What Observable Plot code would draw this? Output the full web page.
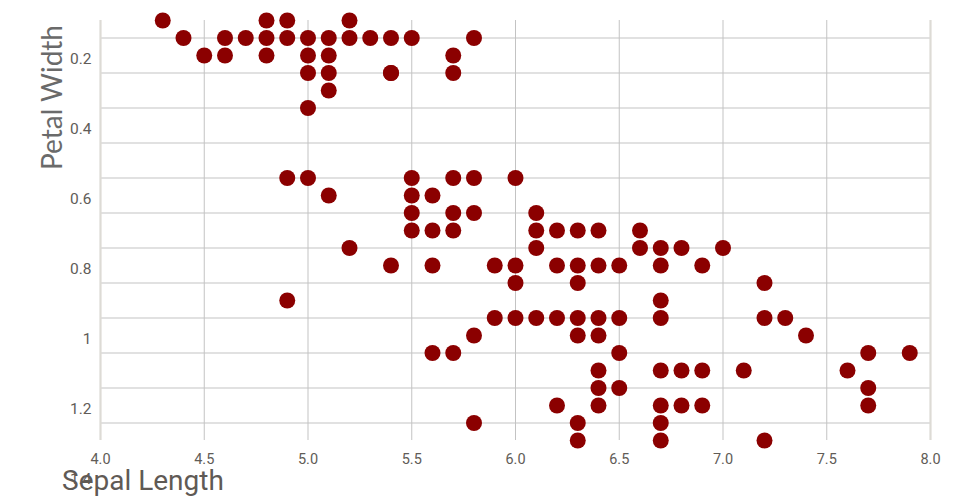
<!DOCTYPE html>
<html>
<head>
<meta charset="utf-8">
<script src="https://cdn.jsdelivr.net/npm/d3@7"></script>
<script src="https://cdn.jsdelivr.net/npm/@observablehq/plot@0.6"></script>
<style>
  html, body { margin: 0; padding: 0; background: #fff; }
  #chart svg { display: block; }
</style>
</head>
<body>
<div id="chart"></div>
<script>
// Petal width rows and the sepal lengths found in each row
const petalWidthRows = [0.1, 0.2, 0.3, 0.4, 0.5, 0.6, 1.0, 1.1, 1.2, 1.3, 1.4, 1.5, 1.6, 1.7, 1.8, 1.9, 2.0, 2.1, 2.2, 2.3, 2.4, 2.5];
const sepalLengthsByRow = [
  [4.3, 4.8, 4.9, 5.2],
  [4.4, 4.6, 4.7, 4.8, 4.9, 5.0, 5.1, 5.2, 5.3, 5.4, 5.5, 5.8],
  [4.5, 4.6, 4.8, 5.0, 5.1, 5.7],
  [5.0, 5.1, 5.4, 5.4, 5.7],
  [5.1],
  [5.0],
  [4.9, 5.0, 5.5, 5.7, 5.8, 6.0],
  [5.1, 5.5, 5.6],
  [5.5, 5.7, 5.8, 6.1],
  [5.5, 5.6, 5.7, 6.1, 6.2, 6.3, 6.4, 6.6],
  [5.2, 6.1, 6.6, 6.7, 6.8, 7.0],
  [5.4, 5.6, 5.9, 6.0, 6.2, 6.3, 6.4, 6.5, 6.7, 6.9],
  [6.0, 6.3, 7.2],
  [4.9, 6.7],
  [5.9, 6.0, 6.1, 6.2, 6.3, 6.4, 6.5, 6.7, 7.2, 7.3],
  [5.8, 6.3, 6.4, 7.4],
  [5.6, 5.7, 6.5, 7.7, 7.9],
  [6.4, 6.7, 6.8, 6.9, 7.1, 7.6],
  [6.4, 6.5, 7.7],
  [6.2, 6.4, 6.7, 6.8, 6.9, 7.7],
  [5.8, 6.3, 6.7],
  [6.3, 6.7, 7.2]
];

const xTicks = [4.0, 4.5, 5.0, 5.5, 6.0, 6.5, 7.0, 7.5, 8.0];
const xInnerGrid = [4.5, 5.0, 5.5, 6.0, 6.5, 7.0, 7.5];
const xEdges = [4.0, 8.0];
const yGrid = [0.2, 0.4, 0.6, 0.8, 1.0, 1.2, 1.4, 1.6, 1.8, 2.0, 2.2, 2.4];
const yTickPositions = [0.2, 0.6, 1.0, 1.4, 1.8, 2.2, 2.6];
const yTickLabels = ["0.2", "0.4", "0.6", "0.8", "1", "1.2", "1.4"];

const points = [];
petalWidthRows.forEach((pw, i) => {
  sepalLengthsByRow[i].forEach(sl => points.push({sepalLength: sl, petalWidth: pw}));
});
const yLabelMap = new Map(yTickPositions.map((p, i) => [p, yTickLabels[i]]));

const plot = Plot.plot({
  width: 960,
  height: 500,
  marginTop: 20,
  marginBottom: 60,
  marginLeft: 100,
  marginRight: 30,
  style: {background: "#fff", overflow: "visible", fontFamily: "Roboto"},
  x: {domain: [4, 8]},
  y: {domain: [0.1, 2.5], reverse: true},
  marks: [
    Plot.gridY(yGrid, {stroke: "#c3c3c3", strokeOpacity: 1, strokeWidth: 1}),
    Plot.gridX(xInnerGrid, {stroke: "#c3c3c3", strokeOpacity: 1, strokeWidth: 1}),
    Plot.ruleX(xEdges, {stroke: "#dddbd5", strokeWidth: 2.2}),
    Plot.axisX({ticks: xTicks, tickFormat: d3.format(".1f"), tickSize: 0, tickPadding: 13,
      fill: "#615c57", label: null}),
    Plot.axisY({ticks: yTickPositions, tickFormat: d => yLabelMap.get(d), tickSize: 0, tickPadding: 9,
      dy: 20.7, fill: "#615c57", label: null}),
    Plot.dot(points, {x: "sepalLength", y: "petalWidth", r: 8, fill: "#8b0000", stroke: "none"})
  ]
});
document.getElementById("chart").appendChild(plot);

const svg = d3.select(plot);
svg.selectAll('g[aria-label="x-axis tick label"]').attr("font-size", 14.5);
svg.selectAll('g[aria-label="y-axis tick label"]').attr("font-size", 15.5);
svg.append("text")
  .attr("transform", "translate(62,25) rotate(-90)")
  .attr("text-anchor", "end")
  .attr("font-family", "Lato")
  .attr("font-size", 28)
  .attr("fill", "#6a6a6a")
  .text("Petal Width");
svg.append("text")
  .attr("x", 62)
  .attr("y", 490)
  .attr("text-anchor", "start")
  .attr("font-family", "Roboto")
  .attr("font-size", 28)
  .attr("fill", "#5f5a55")
  .text("Sepal Length");
</script>
</body>
</html>
